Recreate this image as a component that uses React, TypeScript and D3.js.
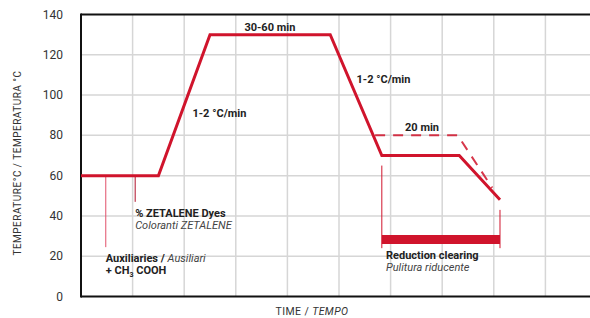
import React from 'react';
import { scaleLinear, line } from 'd3';

// time is in grid units (one vertical grid step), temperature in °C
const timeTicks = [1, 2, 3, 4, 5, 6, 7, 8, 9];
const tempTicks = [0, 20, 40, 60, 80, 100, 120, 140];

const profileTime = [0, 1.5, 2.5, 4.83, 5.83, 7.33, 8.12];
const profileTemp = [60, 60, 130, 130, 70, 70, 48];

const altTime = [5.7, 7.3, 7.97];
const altTemp = [80, 80, 54];

const auxMarker = { t: 0.48, from: 60, to: 24.5 };
const dyeMarker = { t: 1.05, from: 60, to: 47 };
const reduction = { start: 5.83, end: 8.12, bar: 28.3, leftTop: 65, rightTop: 43, bottom: 24 };

const RED = '#d0142c';
const W = 590;
const H = 318;

const App = () => {
  const x = scaleLinear().domain([0, 10]).range([81, 597]);
  const y = scaleLinear().domain([0, 140]).range([296.5, 14.5]);

  const mk = line<[number, number]>().x(d => x(d[0])).y(d => y(d[1]));
  const profile = mk(profileTime.map((t, i) => [t, profileTemp[i]]));
  const alt = mk(altTime.map((t, i) => [t, altTemp[i]]));

  const font = 'Roboto, "DejaVu Sans", sans-serif';

  return (
    <div style={{ position: 'absolute', left: 0, top: 0 }}>
      <svg width={W} height={H} style={{ display: 'block', fontFamily: font }}>
        <rect width={W} height={H} fill="#fff" />
        {/* grid */}
        {timeTicks.map(t => (
          <line key={'v' + t} x1={x(t)} x2={x(t)} y1={y(140)} y2={y(0)} stroke="#d6d6d6" strokeWidth={1.5} />
        ))}
        {tempTicks.slice(1, -1).map(v => (
          <line key={'h' + v} x1={x(0)} x2={W} y1={y(v)} y2={y(v)} stroke="#d6d6d6" strokeWidth={1.5} />
        ))}
        {/* frame */}
        <line x1={x(0)} x2={W} y1={y(140)} y2={y(140)} stroke="#111" strokeWidth={2} />
        <line x1={x(0)} x2={W} y1={y(0)} y2={y(0)} stroke="#111" strokeWidth={2} />
        <line x1={x(0)} x2={x(0)} y1={y(140) - 1} y2={y(0) + 1} stroke="#111" strokeWidth={2} />

        {/* y ticks */}
        {tempTicks.map(v => (
          <text key={'t' + v} x={63} y={y(v) + 4} textAnchor="end" fontSize={12} fill="#333">{v}</text>
        ))}
        <text transform={`translate(21,${163}) rotate(-90)`} textAnchor="middle" fontSize={10} fill="#333" letterSpacing={0.5}>
          TEMPERATURE°C / TEMPERATURA °C
        </text>
        <text x={312} y={315} textAnchor="middle" fontSize={10.5} fill="#333" letterSpacing={0.4}>
          TIME / <tspan fontStyle="italic">TEMPO</tspan>
        </text>

        {/* markers */}
        <line x1={x(auxMarker.t)} x2={x(auxMarker.t)} y1={y(auxMarker.from)} y2={y(auxMarker.to)} stroke="#e2506a" strokeWidth={1} />
        <line x1={x(dyeMarker.t)} x2={x(dyeMarker.t)} y1={y(dyeMarker.from)} y2={y(dyeMarker.to)} stroke="#b0102a" strokeWidth={1} />
        <line x1={x(reduction.start)} x2={x(reduction.start)} y1={y(reduction.leftTop)} y2={y(reduction.bottom)} stroke={RED} strokeWidth={1} />
        <line x1={x(reduction.end)} x2={x(reduction.end)} y1={y(reduction.rightTop)} y2={y(reduction.bottom)} stroke={RED} strokeWidth={1} />
        <line x1={x(reduction.start)} x2={x(reduction.end)} y1={y(reduction.bar)} y2={y(reduction.bar)} stroke={RED} strokeWidth={9} />

        {/* curves */}
        <path d={alt || ''} fill="none" stroke={RED} strokeWidth={2} strokeDasharray="10 8" opacity={0.85} />
        <path d={profile || ''} fill="none" stroke={RED} strokeWidth={3} strokeLinejoin="miter" />

        {/* annotations */}
        <g fontSize={11} fill="#222" fontWeight="bold">
          <text x={x(3.66)} y={y(132)} textAnchor="middle">30-60 min</text>
          <text x={x(2.16)} y={y(89)}>1-2 °C/min</text>
          <text x={x(5.34)} y={y(106)}>1-2 °C/min</text>
          <text x={x(6.28)} y={y(82)}>20 min</text>
          <text x={x(1.05)} y={y(39.5)}>% ZETALENE Dyes</text>
          <text x={x(0.48)} y={y(17)}>
            Auxiliaries / <tspan fontWeight="normal" fontStyle="italic" fill="#444">Ausiliari</tspan>
          </text>
          <text x={x(0.48)} y={y(11)}>
            + CH<tspan fontSize={7} dy={3}>3</tspan><tspan dy={-3}> COOH</tspan>
          </text>
          <text x={x(5.91)} y={y(18.4)}>Reduction clearing</text>
        </g>
        <g fontSize={11} fill="#444" fontStyle="italic">
          <text x={x(1.05)} y={y(33.5)}>Coloranti ZETALENE</text>
          <text x={x(5.91)} y={y(12.6)}>Pulitura riducente</text>
        </g>
      </svg>
    </div>
  );
};

export default App;
